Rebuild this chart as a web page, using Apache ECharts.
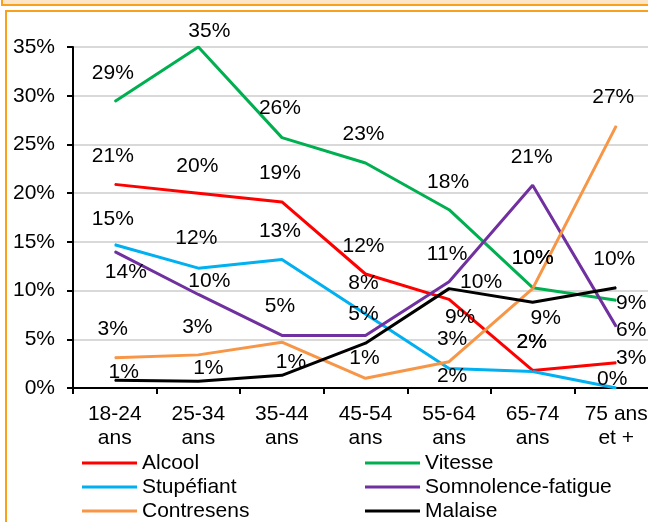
<!DOCTYPE html>
<html>
<head>
<meta charset="utf-8">
<script src="https://cdn.jsdelivr.net/npm/echarts@6/dist/echarts.min.js"></script>
<style>
html,body{margin:0;padding:0;background:#fff;overflow:hidden;width:648px;height:522px;}
.frameTop{position:absolute;left:1px;top:-20px;width:800px;height:26px;box-sizing:border-box;background:#fde6c8;border:2px solid #f9a11b;}
.panel{position:absolute;left:5px;top:10px;width:800px;height:800px;box-sizing:border-box;background:#fff;border:2px solid #f9a11b;}
#chart{position:absolute;left:0;top:0;width:648px;height:522px;}
</style>
</head>
<body>
<div class="frameTop"></div>
<div class="panel"></div>
<div id="chart"></div>
<script>
// ---- data ----
const categories = ['18-24\nans', '25-34\nans', '35-44\nans', '45-54\nans', '55-64\nans', '65-74\nans', '75 ans\net +'];
const alcool      = [20.9, 20.0, 19.1, 11.7, 9.1, 1.8, 2.6];
const vitesse     = [29.4, 35.0, 25.7, 23.1, 18.3, 10.3, 9.0];
const stupefiant  = [14.7, 12.3, 13.2, 7.6, 2.0, 1.7, 0.0];
const somnolence  = [14.0, 9.6, 5.4, 5.4, 10.9, 20.8, 6.3];
const contresens  = [3.1, 3.4, 4.7, 1.0, 2.7, 10.2, 26.9];
const malaise     = [0.8, 0.7, 1.3, 4.6, 10.2, 8.8, 10.3];
const yMin = 0, yMax = 35, yStep = 5;

// ---- label placement (style only) ----
const labelOffsets = {
  'Alcool':             [[-2,-28],[-1,-27],[-2,-29],[-2,-28],[11,18],[-1,-28],[15,-4]],
  'Vitesse':            [[-2,-28],[11,-16],[-2,-29],[-2,-29],[-1,-28],[0,-29],[15,3]],
  'Stupéfiant':         [[-2,-26],[-2,-30],[-2,-28],[-2,-31],[3,8],[-1,-29],[-4,-9]],
  'Somnolence-fatigue': [[11,21],[11,-13],[-2,-29],[-2,-21],[-2,-28],[-1,-28],[15,4]],
  'Contresens':         [[-2,-29],[-1,-28],null,[-1,-20],[3,-22],[0,-30],[-3,-29]],
  'Malaise':            [[9,-8],[10,-13],[9,-13],null,[32,-6],[13,16],[-2,-28]]
};

const FONT = "'Liberation Sans', Arial, sans-serif";
const FS = 21;
const seriesDefs = [
  {name: 'Alcool', values: alcool, color: '#ff0000'},
  {name: 'Vitesse', values: vitesse, color: '#00b050'},
  {name: 'Stupéfiant', values: stupefiant, color: '#00b0f0'},
  {name: 'Somnolence-fatigue', values: somnolence, color: '#7030a0'},
  {name: 'Contresens', values: contresens, color: '#f79646'},
  {name: 'Malaise', values: malaise, color: '#000000'}
];

const series = seriesDefs.map(s => ({
  name: s.name,
  type: 'line',
  symbol: 'circle',
  symbolSize: 1,
  showSymbol: true,
  color: s.color,
  itemStyle: {color: s.color},
  lineStyle: {color: s.color, width: 3},
  emphasis: {disabled: true},
  silent: true,
  label: {
    show: true,
    position: 'inside',
    color: '#000',
    fontSize: FS,
    fontFamily: FONT,
    textBorderWidth: 0,
    formatter: p => Math.round(p.value) + '%'
  },
  data: s.values.map((v, i) => {
    const off = labelOffsets[s.name][i];
    return off ? {value: v, label: {offset: off}} : {value: v, label: {show: false}};
  })
}));

const legendBase = {
  orient: 'vertical', top: 451, height: 90, padding: 0,
  itemWidth: 55, itemHeight: 3, itemGap: 0, icon: 'rect', selectedMode: false,
  textStyle: {color: '#000', fontSize: FS, fontFamily: FONT, lineHeight: 24}
};

const chart = echarts.init(document.getElementById('chart'), null, {renderer: 'canvas'});
chart.setOption({
  animation: false,
  backgroundColor: 'transparent',
  color: seriesDefs.map(s => s.color),
  grid: {left: 73, top: 47, width: 585, height: 341, containLabel: false, outerBoundsMode: 'none'},
  xAxis: {
    type: 'category',
    data: categories,
    boundaryGap: true,
    axisLine: {lineStyle: {color: '#000', width: 2}},
    axisTick: {show: true, length: 6, lineStyle: {color: '#000', width: 2}, alignWithLabel: false},
    axisLabel: {interval: 0, color: '#000', fontSize: FS, fontFamily: FONT, lineHeight: 24, margin: 14},
    splitLine: {show: false}
  },
  yAxis: {
    type: 'value',
    min: yMin, max: yMax, interval: yStep,
    axisLine: {show: true, lineStyle: {color: '#000', width: 2}},
    axisTick: {show: true, length: 6, lineStyle: {color: '#000', width: 2}},
    axisLabel: {color: '#000', fontSize: FS, fontFamily: FONT, margin: 18, formatter: '{value}%'},
    splitLine: {show: true, lineStyle: {color: '#d9d9d9', width: 2}}
  },
  legend: [
    Object.assign({}, legendBase, {data: ['Alcool', 'Stupéfiant', 'Contresens'], left: 82}),
    Object.assign({}, legendBase, {data: ['Vitesse', 'Somnolence-fatigue', 'Malaise'], left: 365})
  ],
  series: series
});
</script>
</body>
</html>
